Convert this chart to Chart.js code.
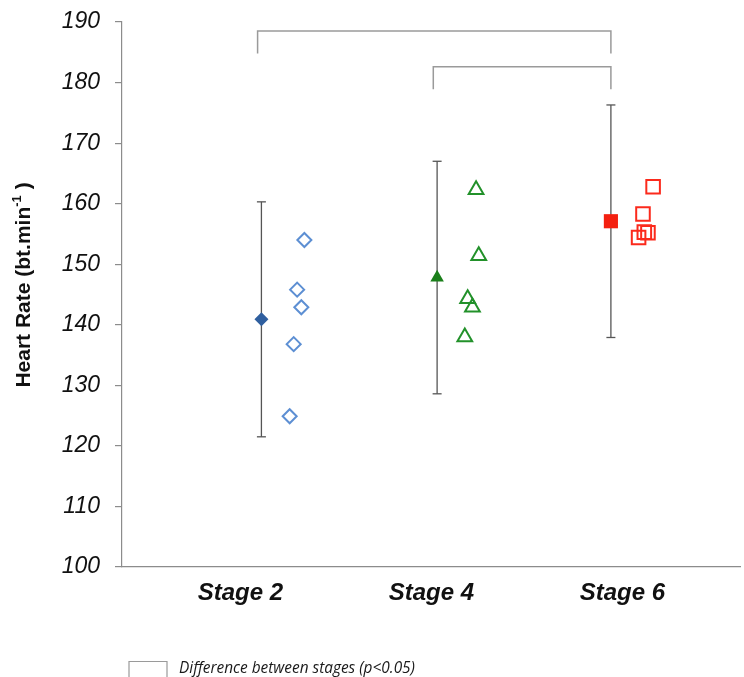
<!DOCTYPE html>
<html>
<head>
<meta charset="utf-8">
<script src="https://cdn.jsdelivr.net/npm/chart.js@4/dist/chart.umd.min.js"></script>
<style>
  html, body { margin: 0; padding: 0; background: #ffffff; }
  #wrap { position: relative; width: 744px; height: 677px; }
</style>
</head>
<body>
<div id="wrap"><canvas id="c" width="744" height="677"></canvas></div>
<script>
// Heart rate by exercise stage: group mean ± SD and individual values
const stages = ['Stage 2', 'Stage 4', 'Stage 6'];
const meanHR = [140.9, 147.8, 157.1];
const sdHR = [19.4, 19.2, 19.2];
const stage2HR = [154.0, 145.8, 142.9, 136.8, 124.9];
const stage4HR = [162.3, 151.4, 144.3, 142.9, 138.0];
const stage6HR = [162.8, 158.3, 155.2, 155.3, 154.4];
// horizontal placement (in stage units) of the mean and of each individual
const meanShift = [0.11, 0.03, -0.06];
const stage2Shift = [0.335, 0.297, 0.319, 0.279, 0.258];
const stage4Shift = [0.234, 0.248, 0.190, 0.215, 0.175];
const stage6Shift = [0.161, 0.108, 0.134, 0.115, 0.085];
// significant pairwise differences: [from stage, to stage, bracket level]
const comparisons = [[0, 2, 188.5], [1, 2, 182.6]];
const bracketDrop = 3.7;
const yTicks = [100, 110, 120, 130, 140, 150, 160, 170, 180, 190];
const yTitle = 'Heart Rate (bt.min';
const yTitleUnitPower = '-1';
const legendText = 'Difference between stages (p<0.05)';

const stageX = i => i + 1;
const meanX = i => stageX(i) + meanShift[i];

const individuals = [stage2HR, stage4HR, stage6HR];
const shifts = [stage2Shift, stage4Shift, stage6Shift];
const shapes = ['rectRot', 'triangle', 'rect'];
const meanColors = ['#2f5f9f', '#1a7f1a', '#f42010'];
const openColors = ['#5d8fd3', '#22912a', '#fb2a1c'];
const openRadius = [7, 8.5, 9.6];
const meanRadius = [7, 7.8, 10];

const datasets = [];

// group means (drawn on top)
meanHR.forEach((m, i) => {
  datasets.push({
    data: [{ x: meanX(i), y: m }],
    pointStyle: shapes[i],
    pointRadius: meanRadius[i],
    backgroundColor: meanColors[i],
    borderColor: meanColors[i],
    borderWidth: 0,
    showLine: false
  });
});

// individual participants
individuals.forEach((vals, i) => {
  datasets.push({
    data: vals.map((v, k) => ({ x: stageX(i) + shifts[i][k], y: v })),
    pointStyle: shapes[i],
    pointRadius: openRadius[i],
    backgroundColor: 'rgba(255,255,255,0)',
    borderColor: openColors[i],
    borderWidth: 2,
    showLine: false
  });
});

// SD whiskers with caps
meanHR.forEach((m, i) => {
  datasets.push({
    data: [{ x: meanX(i), y: m - sdHR[i] }, { x: meanX(i), y: m + sdHR[i] }],
    showLine: true,
    borderColor: '#555555',
    borderWidth: 1.3,
    pointStyle: 'line',
    pointRadius: 4.5,
    pointBorderColor: '#555555',
    pointBorderWidth: 1.3
  });
});

// significance brackets
comparisons.forEach(([a, b, level]) => {
  datasets.push({
    data: [
      { x: meanX(a) - 0.02, y: level - bracketDrop },
      { x: meanX(a) - 0.02, y: level },
      { x: meanX(b), y: level },
      { x: meanX(b), y: level - bracketDrop }
    ],
    showLine: true,
    borderColor: '#9a9a9a',
    borderWidth: 1.5,
    pointRadius: 0
  });
});

// y-axis title with a raised unit power
const axisTitle = {
  id: 'axisTitle',
  afterDraw(chart) {
    const ctx = chart.ctx;
    const main = 'bold 21px "Liberation Sans", Arial, sans-serif';
    const small = 'bold 13px "Liberation Sans", Arial, sans-serif';
    ctx.save();
    ctx.font = main;
    const w1 = ctx.measureText(yTitle).width;
    const wClose = ctx.measureText(' )').width;
    ctx.font = small;
    const w2 = ctx.measureText(yTitleUnitPower).width;
    const total = w1 + w2 + wClose;
    ctx.translate(24, 285);
    ctx.rotate(-Math.PI / 2);
    ctx.fillStyle = '#111111';
    ctx.textBaseline = 'middle';
    ctx.textAlign = 'left';
    let x = -total / 2;
    ctx.font = main;
    ctx.fillText(yTitle, x, 0);
    x += w1;
    ctx.font = small;
    ctx.fillText(yTitleUnitPower, x, -7);
    x += w2;
    ctx.font = main;
    ctx.fillText(' )', x, 0);
    ctx.restore();
  }
};

// key for the brackets, under the axis labels
const bracketKey = {
  id: 'bracketKey',
  afterDraw(chart) {
    const ctx = chart.ctx;
    ctx.save();
    ctx.strokeStyle = '#9a9a9a';
    ctx.lineWidth = 1.2;
    ctx.beginPath();
    ctx.moveTo(129, 680);
    ctx.lineTo(129, 661.5);
    ctx.lineTo(167, 661.5);
    ctx.lineTo(167, 680);
    ctx.stroke();
    ctx.fillStyle = '#1a1a1a';
    ctx.font = 'italic 15.4px "Open Sans", "Liberation Sans", sans-serif';
    ctx.textBaseline = 'middle';
    ctx.textAlign = 'left';
    ctx.fillText(legendText, 179, 669);
    ctx.restore();
  }
};

new Chart(document.getElementById('c'), {
  type: 'scatter',
  data: { datasets },
  plugins: [axisTitle, bracketKey],
  options: {
    responsive: false,
    animation: false,
    events: [],
    layout: { autoPadding: false, padding: { top: 22, right: 4, bottom: 0, left: 0 } },
    plugins: { legend: { display: false }, tooltip: { enabled: false } },
    scales: {
      x: {
        type: 'linear',
        min: 0.38,
        max: 3.616,
        afterBuildTicks: s => { s.ticks = stages.map((_, i) => ({ value: stageX(i) })); },
        afterFit: s => { s.height = 110; s.paddingLeft = 0; s.paddingRight = 0; },
        ticks: {
          callback: v => stages[Math.round(v) - 1],
          color: '#111111',
          font: { family: '"Liberation Sans", Arial, sans-serif', size: 24, style: 'italic', weight: 'bold' },
          padding: 12,
          maxRotation: 0,
          autoSkip: false
        },
        grid: { display: false, drawTicks: false },
        border: { display: true, color: '#8c8c8c', width: 1.2 }
      },
      y: {
        min: 100,
        max: 190,
        afterBuildTicks: s => { s.ticks = yTicks.map(v => ({ value: v })); },
        afterFit: s => { s.width = 122; s.paddingTop = 0; s.paddingBottom = 0; },
        ticks: {
          color: '#111111',
          font: { family: '"Liberation Sans", Arial, sans-serif', size: 23, style: 'italic' },
          padding: 15
        },
        grid: { drawOnChartArea: false, drawTicks: true, tickLength: 7, color: '#8c8c8c', lineWidth: 1.2 },
        border: { display: true, color: '#8c8c8c', width: 1.2 },
        title: { display: false }
      }
    }
  }
});
</script>
</body>
</html>
